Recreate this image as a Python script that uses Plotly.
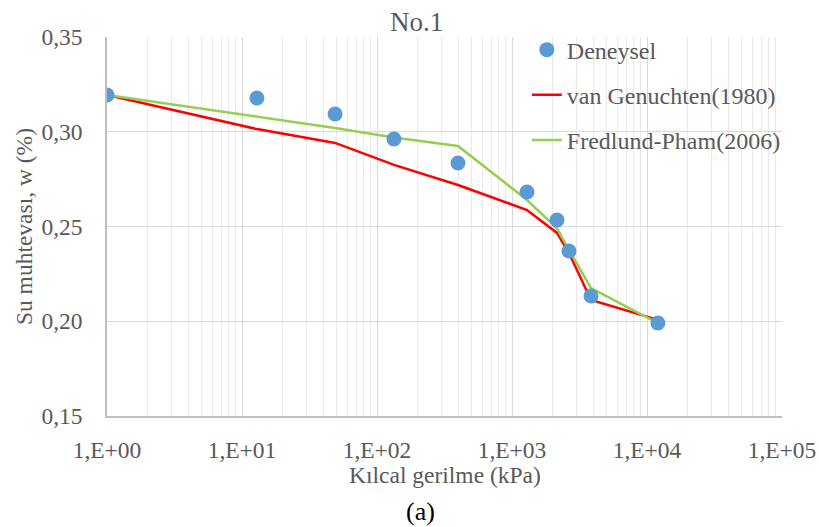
import plotly.graph_objects as go

# Data
suction = [1, 12.9, 48.9, 133.6, 398, 1291, 2154, 2644, 3846, 12050]
w_exp = [0.3194, 0.3178, 0.3094, 0.2962, 0.2835, 0.2682, 0.2534, 0.2371, 0.2133, 0.1991]
w_vg = [0.3194, 0.3014, 0.2941, 0.2825, 0.2719, 0.2587, 0.2466, 0.2360, 0.2112, 0.2007]
w_fp = [0.3194, 0.3078, 0.3020, 0.2970, 0.2925, 0.2640, 0.2490, 0.2376, 0.2175, 0.1990]

x_tickvals = [1, 10, 100, 1000, 10000, 100000]
x_ticktext = ["1,E+00", "1,E+01", "1,E+02", "1,E+03", "1,E+04", "1,E+05"]
y_tickvals = [0.15, 0.20, 0.25, 0.30, 0.35]
y_ticktext = ["0,15", "0,20", "0,25", "0,30", "0,35"]

FONT = "Liberation Serif"
GRAY = "#595959"

fig = go.Figure()
fig.add_trace(go.Scatter(x=suction, y=w_vg, mode="lines", name="van Genuchten(1980)",
                         line=dict(color="#ff0000", width=2.5), legendrank=2, legendgroup="b"))
fig.add_trace(go.Scatter(x=suction, y=w_fp, mode="lines", name="Fredlund-Pham(2006)",
                         line=dict(color="#92d050", width=2.5), legendrank=3, legendgroup="c"))
fig.add_trace(go.Scatter(x=suction, y=w_exp, mode="markers", name="Deneysel",
                         marker=dict(color="#5b9bd5", size=15), legendrank=1, legendgroup="a"))

fig.update_layout(
    width=819, height=527,
    margin=dict(l=107, r=37, t=37, b=111, autoexpand=False),
    paper_bgcolor="white", plot_bgcolor="white",
    font=dict(family=FONT, color=GRAY, size=23),
    showlegend=True,
    legend=dict(x=0.622, y=1.025, xanchor="left", yanchor="top", bgcolor="rgba(255,255,255,0)",
                font=dict(size=24, color=GRAY, family=FONT), tracegroupgap=11),
    annotations=[
        dict(text="No.1", x=0.459, xref="paper", y=1.04, yref="paper",
             xanchor="center", yanchor="middle", showarrow=False,
             font=dict(size=27, color=GRAY, family=FONT)),
        dict(text="Kılcal gerilme (kPa)", x=0.5, xref="paper", y=-0.156, yref="paper",
             xanchor="center", yanchor="middle", showarrow=False,
             font=dict(size=23.5, color=GRAY, family=FONT)),
        dict(text="Su muhtevası, w (%)", x=-0.123, xref="paper", y=0.501, yref="paper",
             xanchor="center", yanchor="middle", showarrow=False, textangle=-90,
             font=dict(size=23.5, color=GRAY, family=FONT)),
        dict(text="(a)", x=0.465, xref="paper", y=-0.253, yref="paper",
             xanchor="center", yanchor="middle", showarrow=False,
             font=dict(size=26, color="black", family=FONT)),
    ],
)
fig.update_xaxes(
    type="log", range=[0, 5], automargin=False,
    tickvals=x_tickvals, ticktext=x_ticktext,
    tickfont=dict(size=23.5, color=GRAY, family=FONT), ticks="", ticklabelstandoff=12,
    showgrid=True, gridcolor="#d9d9d9", gridwidth=1.3,
    minor=dict(showgrid=True, gridcolor="#eaeaea", gridwidth=1, dtick="D1", ticks=""),
    showline=True, linecolor="#bfbfbf", linewidth=1.5,
    zeroline=False,
)
fig.update_yaxes(
    range=[0.15, 0.35], automargin=False,
    tickvals=y_tickvals, ticktext=y_ticktext,
    tickfont=dict(size=23.5, color=GRAY, family=FONT), ticks="", ticklabelstandoff=18,
    showgrid=True, gridcolor="#d9d9d9", gridwidth=1.3,
    showline=True, linecolor="#bfbfbf", linewidth=1.5,
    zeroline=False,
)

fig.write_html("out.html")
